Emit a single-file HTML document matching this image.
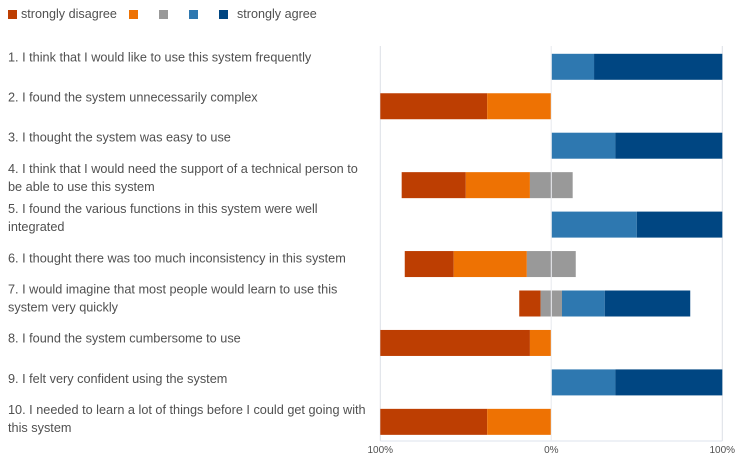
<!DOCTYPE html>
<html lang="en">
<head>
<meta charset="utf-8">
<title>Survey responses</title>
<style>
html,body{margin:0;padding:0;background:#fff;}
svg{display:block;filter:blur(0.35px);}
text{font-family:"Liberation Sans",sans-serif;fill:#505050;}
</style>
</head>
<body>
<svg id="chart" width="744" height="456" viewBox="0 0 744 456" xmlns="http://www.w3.org/2000/svg"></svg>
<script>
const questions = [
  ["1. I think that I would like to use this system frequently"],
  ["2. I found the system unnecessarily complex"],
  ["3. I thought the system was easy to use"],
  ["4. I think that I would need the support of a technical person to", "be able to use this system"],
  ["5. I found the various functions in this system were well", "integrated"],
  ["6. I thought there was too much inconsistency in this system"],
  ["7. I would imagine that most people would learn to use this", "system very quickly"],
  ["8. I found the system cumbersome to use"],
  ["9. I felt very confident using the system"],
  ["10. I needed to learn a lot of things before I could get going with", "this system"]
];
const stronglyDisagree = [0, 62.5, 0, 37.5, 0, 28.6, 12.5, 87.5, 0, 62.5];
const disagree = [0, 37.5, 0, 37.5, 0, 42.8, 0, 12.5, 0, 37.5];
const neutral = [0, 0, 0, 25, 0, 28.6, 12.5, 0, 0, 0];
const agree = [25, 0, 37.5, 0, 50, 0, 25, 0, 37.5, 0];
const stronglyAgree = [75, 0, 62.5, 0, 50, 0, 50, 0, 62.5, 0];
const axisTicks = [-100, 0, 100];
const tickLabels = ["100%", "0%", "100%"];
const legendLabels = ["strongly disagree", "", "", "", "strongly agree"];

const svg = document.getElementById('chart');
const NS = 'http://www.w3.org/2000/svg';
const colors = ['#bd3e02', '#ee7203', '#999999', '#2e78b0', '#004682'];
const legendSwatchX = [8, 129, 159, 189, 219];
const legendTextX = [21, 0, 0, 0, 237];

function x(v) { return 551.3 + v * 1.71; }
function rowTop(i) { return 53.8 + i * 39.45; }
function labelCentre(i) { return 57 + i * 40.2; }
const barH = 26;

function make(tag, attrs, parent) {
  const el = document.createElementNS(NS, tag);
  for (const k in attrs) el.setAttribute(k, attrs[k]);
  (parent || svg).appendChild(el);
  return el;
}

// gridlines
axisTicks.forEach((t, i) => {
  const g = make('line', { x1: x(t), x2: x(t), y1: 46, y2: 441, stroke: '#dcdfe6', 'stroke-width': 1 });
  
  
});
const base = make('line', { x1: x(-100), x2: x(100), y1: 441, y2: 441, stroke: '#dde3ec', 'stroke-width': 1 });



// tick labels
axisTicks.forEach((t, i) => {
  const l = make('text', { x: x(t), y: 453, 'text-anchor': 'middle', 'font-size': 10 });
  l.textContent = tickLabels[i];
  
  
});

// legend
legendLabels.forEach((label, i) => {
  const s = make('rect', { x: legendSwatchX[i], y: 10, width: 9, height: 9, fill: colors[i] });
  
  
  if (label) {
    const t = make('text', { x: legendTextX[i], y: 18, 'font-size': 12.6 });
    t.textContent = label;
    
    
  }
});

// question labels
questions.forEach((lines, i) => {
  const cy = labelCentre(i) + 4.3;
  lines.forEach((line, j) => {
    const yy = lines.length === 1 ? cy : cy - 9 + j * 18;
    const t = make('text', { x: 8, y: yy, 'font-size': 12.7 });
    t.textContent = line;
    
    
  });
});

// bars
questions.forEach((_, i) => {
  const segs = [stronglyDisagree[i], disagree[i], neutral[i], agree[i], stronglyAgree[i]];
  let cur = -(segs[0] + segs[1] + segs[2] / 2);
  segs.forEach((v, k) => {
    if (v > 0) {
      const r = make('rect', { x: x(cur), y: rowTop(i), width: x(cur + v) - x(cur), height: barH, fill: colors[k] });
      
      
    }
    cur += v;
  });
});

// centre line over the neutral bars
const centre = make('line', { x1: x(0), x2: x(0), y1: 46, y2: 441, stroke: '#eef0f4', 'stroke-width': 1 });


</script>
</body>
</html>
